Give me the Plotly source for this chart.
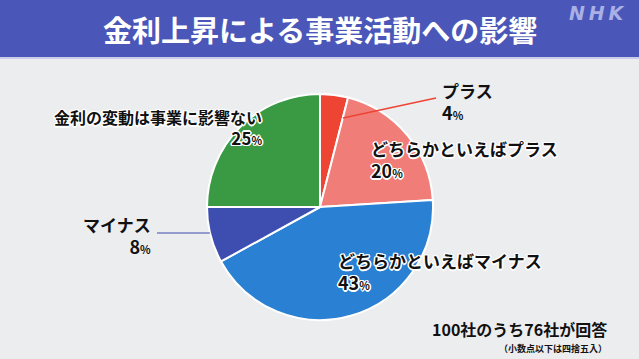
import plotly.graph_objects as go

# ---- data ----
categories = ["プラス", "どちらかといえばプラス", "どちらかといえばマイナス", "マイナス", "金利の変動は事業に影響ない"]
values = [4, 20, 43, 8, 25]
colors = ["#ee4434", "#f07d78", "#2a81d3", "#3d4db0", "#3a9a43"]
title_text = "金利上昇による事業活動への影響"
note_main = "100社のうち76社が回答"
note_sub = "（小数点以下は四捨五入）"

W, H = 639, 359
FONT = "Noto Sans CJK JP"
cx, cy, r = 320, 207, 113

fig = go.Figure(go.Pie(
    labels=categories, values=values, sort=False, direction="clockwise",
    rotation=0, textinfo="none", hoverinfo="label+value",
    marker=dict(colors=colors, line=dict(color="white", width=2)),
    domain=dict(x=[(cx - r) / W, (cx + r) / W], y=[(H - cy - r) / H, (H - cy + r) / H]),
    showlegend=False,
))

def px(x):
    return x / W

def py(y):
    return 1 - y / H

outline = "-1px -1px 0 #fff, 1px -1px 0 #fff, -1px 1px 0 #fff, 1px 1px 0 #fff, 0 1.5px 0 #fff, 0 -1.5px 0 #fff, 1.5px 0 0 #fff, -1.5px 0 0 #fff"

def lab(i, x, y, anchor, inside, size=17):
    t = (f"{categories[i]}<br><span style='font-size:{size + 1}px'>{values[i]}</span>"
         f"<span style='font-size:11px'>%</span>")
    return dict(text=t, x=px(x), y=py(y), xref="paper", yref="paper",
                xanchor=anchor, yanchor="middle", showarrow=False, align=anchor,
                font=dict(family=FONT, size=size, color="#111", weight=700,
                          shadow=outline if inside else "none"))

annotations = [
    lab(0, 440, 102, "left", False),
    lab(1, 369, 160, "left", True),
    lab(2, 336, 271, "left", True),
    lab(3, 153, 235, "right", False),
    lab(4, 264, 127, "right", True, size=16),
    dict(text=f"<b>{title_text}</b>", x=px(320), y=py(29), xref="paper", yref="paper",
         xanchor="center", yanchor="middle", showarrow=False,
         font=dict(family=FONT, size=29, color="white")),
    dict(text="<b><i>N\u2009H\u2009K</i></b>", x=px(596), y=py(13), xref="paper", yref="paper",
         xanchor="center", yanchor="middle", showarrow=False,
         font=dict(family="DejaVu Sans", size=19, color="#a9b0e6")),
    dict(text=note_main, x=px(609), y=py(329), xref="paper", yref="paper",
         xanchor="right", yanchor="middle", showarrow=False,
         font=dict(family=FONT, size=16, color="#111", weight=700)),
    dict(text=f"<b>{note_sub}</b>", x=px(609), y=py(348), xref="paper", yref="paper",
         xanchor="right", yanchor="middle", showarrow=False,
         font=dict(family=FONT, size=9, color="#111")),
]

shapes = [
    dict(type="rect", xref="paper", yref="paper", x0=0, x1=1, y0=py(57), y1=1,
         fillcolor="#4b56b9", line=dict(width=0), layer="below"),
    dict(type="rect", xref="paper", yref="paper", x0=0, x1=1, y0=py(59), y1=py(57),
         fillcolor="#c9cdea", line=dict(width=0), layer="below"),
    dict(type="line", xref="paper", yref="paper", x0=px(343), y0=py(118), x1=px(436), y1=py(98),
         line=dict(color=colors[0], width=1.5)),
    dict(type="line", xref="paper", yref="paper", x0=px(157), y0=py(233), x1=px(210), y1=py(233),
         line=dict(color=colors[3], width=1.2)),
]

fig.update_layout(
    width=W, height=H, margin=dict(l=0, r=0, t=0, b=0),
    paper_bgcolor="#ecedef", plot_bgcolor="#ecedef",
    annotations=annotations, shapes=shapes,
)

fig.write_html("out.html", config={"displayModeBar": False},
               post_script="document.body.style.margin='0';document.body.style.overflow='hidden';")
